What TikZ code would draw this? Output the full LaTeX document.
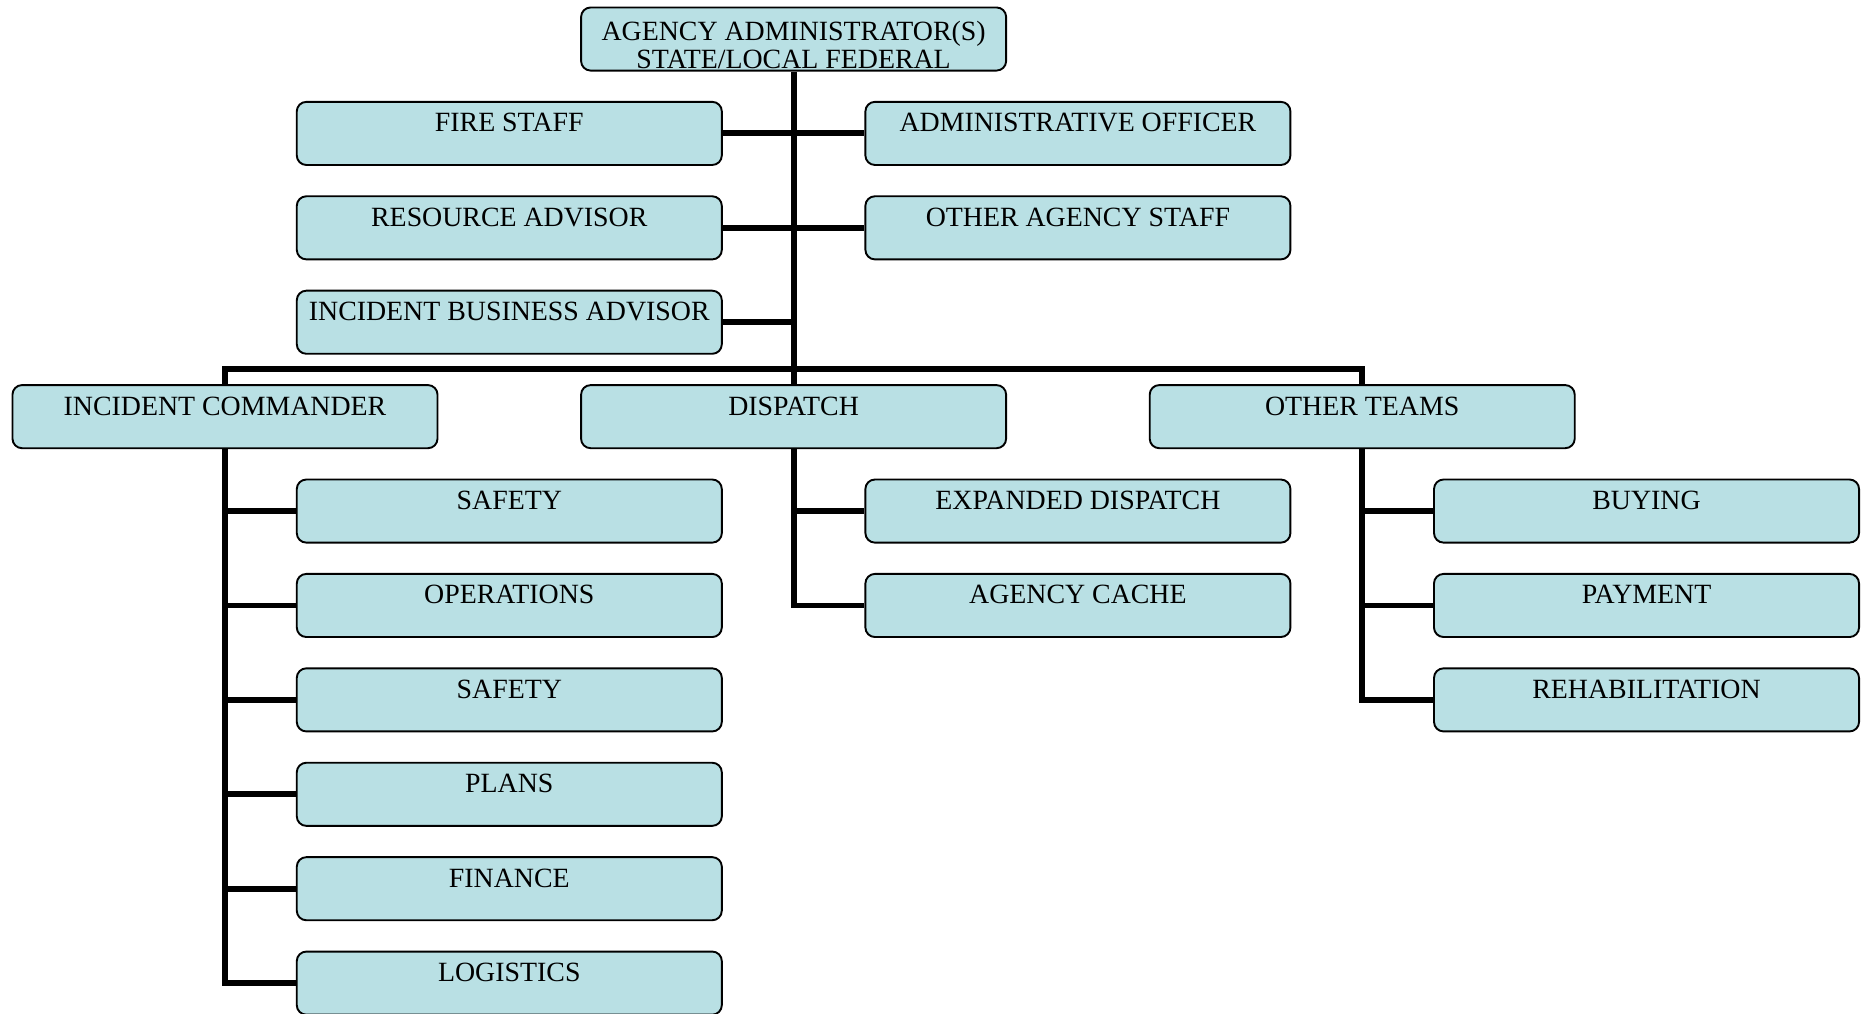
\documentclass[tikz,border=0pt]{standalone}
\usepackage{fontspec}
\setmainfont{Liberation Serif}
\definecolor{boxfill}{RGB}{185,224,228}

\begin{document}
\begin{tikzpicture}[x=119.4pt, y=-39.65pt,
          unit/.style={draw=black, line width=0.8pt, rounded corners=4pt,
            fill=boxfill, minimum width=178.5pt, minimum height=26.5pt,
            inner sep=0pt, text height=12.6pt, text depth=13.9pt,
            font=\fontsize{11.7}{11.8}\selectfont},
          link/.style={line width=2.5pt},
        ]
          \useasboundingbox (-0.7914,-0.4131) rectangle (5.779,10.318);
          % top of the chart
          \node[unit, align=center, text height=25.6pt, text depth=0.9pt] (admin) at (2,0)
            {AGENCY ADMINISTRATOR(S)\\STATE/LOCAL FEDERAL};
          \node[unit] (firestaff)   at (1,1) {FIRE STAFF};
          \node[unit] (admofficer)  at (3,1) {ADMINISTRATIVE OFFICER};
          \node[unit] (resadvisor)  at (1,2) {RESOURCE ADVISOR};
          \node[unit] (agencystaff) at (3,2) {OTHER AGENCY STAFF};
          \node[unit] (bizadvisor)  at (1,3) {INCIDENT BUSINESS ADVISOR};
          % second level
          \node[unit] (commander)  at (0,4) {INCIDENT COMMANDER};
          \node[unit] (dispatch)   at (2,4) {DISPATCH};
          \node[unit] (otherteams) at (4,4) {OTHER TEAMS};
          % under the commander
          \node[unit] (safetyA)    at (1,5)  {SAFETY};
          \node[unit] (operations) at (1,6)  {OPERATIONS};
          \node[unit] (safetyB)    at (1,7)  {SAFETY};
          \node[unit] (plans)      at (1,8)  {PLANS};
          \node[unit] (finance)    at (1,9)  {FINANCE};
          \node[unit] (logistics)  at (1,10) {LOGISTICS};
          % under dispatch
          \node[unit] (expdispatch) at (3,5) {EXPANDED DISPATCH};
          \node[unit] (cache)       at (3,6) {AGENCY CACHE};
          % under the other teams
          \node[unit] (buying)  at (5,5) {BUYING};
          \node[unit] (payment) at (5,6) {PAYMENT};
          \node[unit] (rehab)   at (5,7) {REHABILITATION};

          \coordinate (bar) at (2,3.5);
          \draw[link] (admin.south) -- (dispatch.north);
          \draw[link] (firestaff.east) -- (admofficer.west);
          \draw[link] (resadvisor.east) -- (agencystaff.west);
          \draw[link] (bizadvisor.east) -- (bizadvisor.east -| admin.south);
          \draw[link] (commander.north) |- (bar) -| (otherteams.north);

          \draw[link] (commander.south) |- (logistics.west);
          \draw[link] (safetyA.west -| commander.south) -- (safetyA.west);
          \draw[link] (operations.west -| commander.south) -- (operations.west);
          \draw[link] (safetyB.west -| commander.south) -- (safetyB.west);
          \draw[link] (plans.west -| commander.south) -- (plans.west);
          \draw[link] (finance.west -| commander.south) -- (finance.west);

          \draw[link] (dispatch.south) |- (cache.west);
          \draw[link] (expdispatch.west -| dispatch.south) -- (expdispatch.west);

          \draw[link] (otherteams.south) |- (rehab.west);
          \draw[link] (buying.west -| otherteams.south) -- (buying.west);
          \draw[link] (payment.west -| otherteams.south) -- (payment.west);
        \end{tikzpicture}
\end{document}
